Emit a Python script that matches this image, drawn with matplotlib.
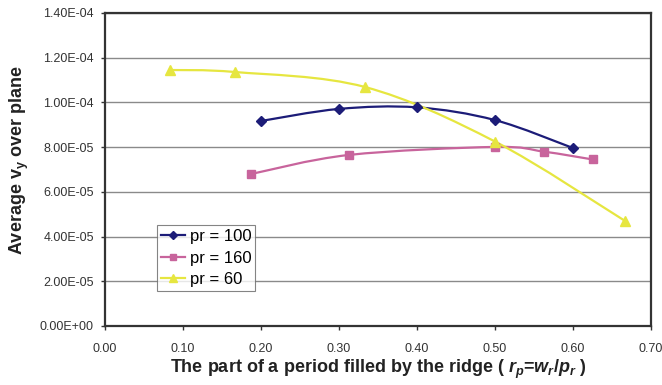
import numpy as np
import matplotlib.pyplot as plt
from matplotlib.path import Path
from matplotlib.patches import PathPatch
from matplotlib.ticker import FixedLocator, FuncFormatter
from matplotlib.lines import Line2D

plt.rcParams['font.family'] = ['Liberation Sans', 'DejaVu Sans']
plt.rcParams['mathtext.fontset'] = 'custom'
plt.rcParams['mathtext.rm'] = 'Liberation Sans:bold'
plt.rcParams['mathtext.it'] = 'Liberation Sans:italic:bold'
plt.rcParams['mathtext.bf'] = 'Liberation Sans:bold'

# data
x_pr100 = [0.20, 0.30, 0.40, 0.50, 0.60]
y_pr100 = [9.17e-5, 9.71e-5, 9.78e-5, 9.21e-5, 7.96e-5]

x_pr160 = [0.1875, 0.3125, 0.50, 0.5625, 0.625]
y_pr160 = [6.80e-5, 7.65e-5, 8.01e-5, 7.80e-5, 7.45e-5]

x_pr60 = [0.0833, 0.1667, 0.3333, 0.50, 0.6667]
y_pr60 = [1.145e-4, 1.136e-4, 1.069e-4, 8.25e-5, 4.70e-5]

labels = ['pr = 100', 'pr = 160', 'pr = 60']
colors = ['#1c1c78', '#c8649c', '#e6e640']
markers = ['D', 's', '^']
msizes = [5, 5.5, 7]


# Excel-like smoothed line (Catmull-Rom as cubic Bezier)
def smooth_path(xs, ys):
    p = np.column_stack([xs, ys])
    ext = np.vstack([p[0], p, p[-1]])
    verts = [p[0]]
    codes = [Path.MOVETO]
    for i in range(1, len(ext) - 2):
        c1 = ext[i] + (ext[i + 1] - ext[i - 1]) / 6
        c2 = ext[i + 1] - (ext[i + 2] - ext[i]) / 6
        verts += [c1, c2, ext[i + 1]]
        codes += [Path.CURVE4] * 3
    return Path(verts, codes)


fig = plt.figure(figsize=(6.62, 3.85), dpi=100)
ax = fig.add_axes([105 / 662, 1 - 326 / 385, 546 / 662, 313 / 385])

series = [(x_pr100, y_pr100), (x_pr160, y_pr160), (x_pr60, y_pr60)]
handles = []
for (xs, ys), lab, c, m, ms in zip(series, labels, colors, markers, msizes):
    ax.add_patch(PathPatch(smooth_path(xs, ys), fill=False, edgecolor=c, lw=1.6, zorder=3))
    ax.plot(xs, ys, ls='none', marker=m, color=c, ms=ms, zorder=4)
    handles.append(Line2D([], [], color=c, marker=m, ms=ms - 1, lw=1.6, label=lab))

ax.set_xlim(0, 0.7)
ax.set_ylim(0, 1.4e-4)
ax.xaxis.set_major_locator(FixedLocator(np.arange(0, 0.71, 0.1)))
ax.yaxis.set_major_locator(FixedLocator(np.arange(0, 1.41e-4, 2e-5)))
ax.xaxis.set_major_formatter(FuncFormatter(lambda v, p: f'{v:.2f}'))
ax.yaxis.set_major_formatter(FuncFormatter(lambda v, p: f'{v:.2E}'))
ax.grid(axis='y', color='#8a8a8a', lw=1)
ax.set_axisbelow(True)
ax.tick_params(labelsize=9, colors='#333333', length=3, width=1)
ax.tick_params(axis='x', pad=9)
ax.tick_params(axis='y', pad=5)
for s in ax.spines.values():
    s.set_color('#333333')
    s.set_linewidth(1.6)

ax.set_ylabel(r'Average v$_\mathbf{y}$ over plane', fontsize=13, fontweight='bold',
              color='#222222')
ax.yaxis.set_label_coords(-0.135, 0.53)
ax.set_xlabel(r'The part of a period filled by the ridge ( $r_p$=$w_r$/$p_r$ )',
              fontsize=13, fontweight='bold', color='#222222', labelpad=2)

leg = ax.legend(handles=handles, loc='upper left', bbox_to_anchor=(52 / 546, 101 / 313),
                fontsize=12, frameon=True, fancybox=False, edgecolor='#666666',
                handlelength=1.4, handletextpad=0.3, borderpad=0.25, labelspacing=0.38,
                borderaxespad=0)
leg.get_frame().set_linewidth(0.8)

fig.savefig('out.png', dpi=100)
